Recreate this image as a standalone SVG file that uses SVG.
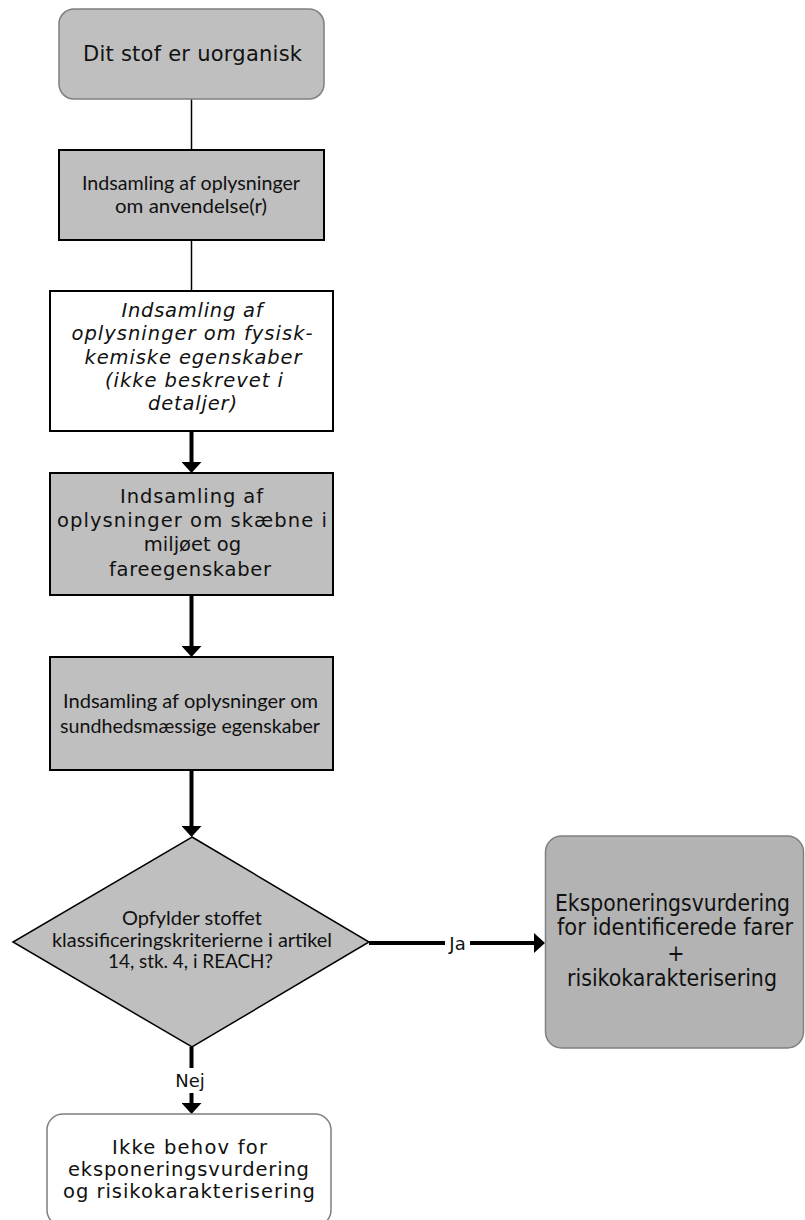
<svg xmlns="http://www.w3.org/2000/svg" width="805" height="1220" viewBox="0 0 805 1220">
<style>
.bg{fill:#ffffff}
.gray{fill:#bfbfbf}
.sq{stroke:#000;stroke-width:2}
.rnd{stroke:#7f7f7f;stroke-width:1.5}
.dv{font-family:"DejaVu Sans",Verdana,sans-serif;font-size:19.5px;fill:#111;text-anchor:middle}
.dvi{font-family:"DejaVu Sans",Verdana,sans-serif;font-style:italic;font-size:19.5px;fill:#111;text-anchor:middle}
.cal{font-family:Lato,"Liberation Sans",sans-serif;font-size:19px;fill:#111;text-anchor:middle}
.cond{font-family:"DejaVu Sans Condensed","DejaVu Sans",sans-serif;font-stretch:condensed;font-size:23px;fill:#111;text-anchor:middle}
.thin{stroke:#000;stroke-width:1.5;fill:none}
.thick{stroke:#000;stroke-width:4;fill:none}
.lbl{font-family:"DejaVu Sans",Verdana,sans-serif;font-size:18px;fill:#111;text-anchor:middle}
</style>
<defs>
<marker id="ah" markerUnits="userSpaceOnUse" viewBox="0 0 11 20" markerWidth="11" markerHeight="20" refX="3" refY="10" orient="auto">
<path d="M0,0 L11,10 L0,20 Z" fill="#000"/>
</marker>
</defs>
<rect class="bg" x="0" y="0" width="805" height="1220"/>

<g id="connectors">
<path class="thin" d="M191.5,99 V150"/>
<path class="thin" d="M191.5,240 V291"/>
<path class="thick" d="M191.5,431 V465" marker-end="url(#ah)"/>
<path class="thick" d="M191.5,595 V649" marker-end="url(#ah)"/>
<path class="thick" d="M191.5,770 V829" marker-end="url(#ah)"/>
<path class="thick" d="M369,943 H445"/>
<path class="thick" d="M470,943 H537" marker-end="url(#ah)"/>
<text class="lbl" x="457.5" y="949.5">Ja</text>
<path class="thick" d="M191.5,1047 V1068"/>
<path class="thick" d="M191.5,1093 V1106" marker-end="url(#ah)"/>
<text class="lbl" x="190" y="1087">Nej</text>
</g>

<g id="n1">
<rect class="gray rnd" x="59" y="9" width="265" height="90" rx="15"/>
<text class="dv" style="font-size:21px" x="192.5" y="61" textLength="219">Dit stof er uorganisk</text>
</g>

<g id="n2">
<rect class="gray sq" x="59" y="150" width="265" height="90"/>
<text class="cal" x="191" y="190" textLength="218" lengthAdjust="spacingAndGlyphs">Indsamling af oplysninger</text>
<text class="cal" x="191" y="213" textLength="152" lengthAdjust="spacingAndGlyphs">om anvendelse(r)</text>
</g>

<g id="n3">
<rect class="bg sq" x="50" y="291" width="283" height="140"/>
<text class="dvi" x="192" y="317" textLength="141">Indsamling af</text>
<text class="dvi" x="192" y="340" textLength="241">oplysninger om fysisk-</text>
<text class="dvi" x="193" y="364" textLength="217">kemiske egenskaber</text>
<text class="dvi" x="194" y="387" textLength="178">(ikke beskrevet i</text>
<text class="dvi" x="192.5" y="410" textLength="89">detaljer)</text>
</g>

<g id="n4">
<rect class="gray sq" x="50" y="473" width="283" height="122"/>
<text class="dv" x="191.5" y="503" textLength="143">Indsamling af</text>
<text class="dv" x="192" y="527" textLength="270">oplysninger om skæbne i</text>
<text class="dv" x="192.5" y="551">miljøet og</text>
<text class="dv" x="190" y="576" textLength="162">fareegenskaber</text>
</g>

<g id="n5">
<rect class="gray sq" x="50" y="657" width="283" height="113"/>
<text class="cal" x="190.5" y="708" textLength="255" lengthAdjust="spacingAndGlyphs">Indsamling af oplysninger om</text>
<text class="cal" x="190" y="733" textLength="260" lengthAdjust="spacingAndGlyphs">sundhedsmæssige egenskaber</text>
</g>

<g id="n6">
<polygon class="gray" points="192,837 369,942 192,1047 13,942" stroke="#000" stroke-width="1.5"/>
<text class="cal" x="192" y="925" textLength="140" lengthAdjust="spacingAndGlyphs">Opfylder stoffet</text>
<text class="cal" x="192" y="947" textLength="280" lengthAdjust="spacingAndGlyphs">klassificeringskriterierne i artikel</text>
<text class="cal" x="190.5" y="968" textLength="165" lengthAdjust="spacingAndGlyphs">14, stk. 4, i REACH?</text>
</g>

<g id="n7">
<rect x="545.5" y="836" width="258" height="212" rx="16" fill="#b3b3b3" class="rnd"/>
<text class="cond" x="672.5" y="911" textLength="235" lengthAdjust="spacingAndGlyphs">Eksponeringsvurdering</text>
<text class="cond" x="675" y="935" textLength="236" lengthAdjust="spacingAndGlyphs">for identificerede farer</text>
<text class="cond" x="676" y="961">+</text>
<text class="cond" x="672" y="986" textLength="210" lengthAdjust="spacingAndGlyphs">risikokarakterisering</text>
</g>

<g id="n8">
<rect class="bg rnd" x="47" y="1114" width="284" height="112" rx="16"/>
<text class="dv" x="189.5" y="1154" textLength="155">Ikke behov for</text>
<text class="dv" x="188.5" y="1176" textLength="241">eksponeringsvurdering</text>
<text class="dv" x="189" y="1198" textLength="252">og risikokarakterisering</text>
</g>
</svg>
